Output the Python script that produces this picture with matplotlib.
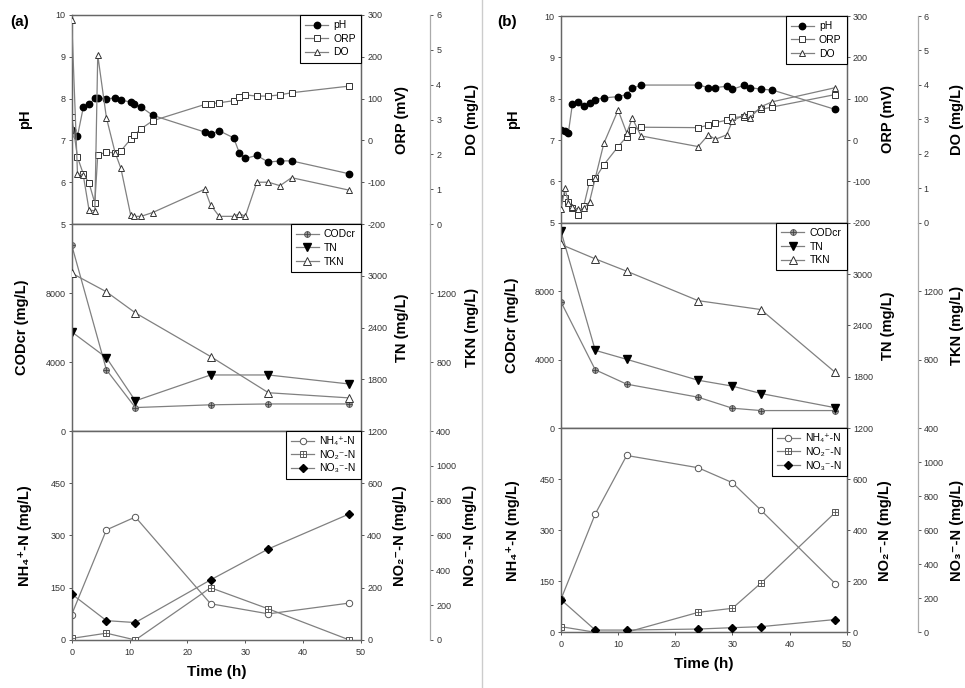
import matplotlib.pyplot as plt
from matplotlib.lines import Line2D

plt.rcParams['font.family'] = ['Liberation Sans', 'DejaVu Sans']
plt.rcParams['axes.unicode_minus'] = False

# ---------------- (a) ----------------
t_a = [0, 1, 2, 3, 4, 4.5, 6, 7.5, 8.5, 10.2, 10.8, 12, 14, 23, 24, 25.5, 28, 29, 30, 32, 34, 36, 38, 48]
ph_a = [7.25, 7.1, 7.79, 7.86, 8.01, 8.02, 8.0, 8.01, 7.96, 7.92, 7.88, 7.8, 7.6, 7.2, 7.15, 7.23,
        7.06, 6.69, 6.57, 6.64, 6.48, 6.51, 6.51, 6.2]
orp_a = [57, -40, -80, -102, -150, -35, -28, -30, -25, 3, 12, 28, 47, 86, 88, 90, 95, 103, 109,
         106, 106, 109, 114, 130]
do_a = [5.85, 1.45, 1.4, 0.4, 0.38, 4.85, 3.05, 2.05, 1.6, 0.25, 0.22, 0.22, 0.33, 1.0, 0.55,
        0.22, 0.22, 0.3, 0.22, 1.2, 1.2, 1.1, 1.33, 0.97]

t2_a = [0, 6, 11, 24, 34, 48]
cod_a = [10780, 3550, 1360, 1520, 1570, 1570]
tn_a = [2350, 2050, 1550, 1850, 1850, 1745]
tkn_a = [1315, 1207, 1085, 832, 622, 592]
nh4_a = [73, 316, 353, 104, 75, 106]
no2_a = [6, 26, 0, 200, 119, 0]
no3_a = [264, 111, 100, 345, 523, 724]

# ---------------- (b) ----------------
t_b = [0, 0.7, 1.3, 2, 3, 4, 5, 6, 7.5, 10, 11.5, 12.5, 14, 24, 25.8, 27, 29, 30, 32, 33, 35, 37, 48]
ph_b = [7.24, 7.22, 7.18, 7.87, 7.93, 7.82, 7.9, 7.98, 8.02, 8.05, 8.1, 8.25, 8.33, 8.33, 8.27,
        8.27, 8.3, 8.23, 8.32, 8.27, 8.23, 8.21, 7.74]
orp_b = [-129, -140, -150, -165, -181, -159, -101, -93, -60, -16, 8, 24, 31, 30, 36, 42, 48, 55,
         56, 64, 74, 80, 110]
do_b = [0.39, 1.0, 0.58, 0.45, 0.39, 0.42, 0.61, 1.29, 2.3, 3.27, 2.61, 3.03, 2.52, 2.21, 2.55,
        2.42, 2.55, 2.95, 3.13, 3.03, 3.37, 3.51, 3.92]

t2_b = [0, 6, 11.5, 24, 30, 35, 48]
cod_b = [7380, 3415, 2576, 1815, 1171, 1034, 1034]
tn_b = [3500, 2110, 2005, 1761, 1692, 1606, 1440]
t_tkn_b = [0, 6, 11.5, 24, 35, 48]
tkn_b = [1473, 1389, 1317, 1145, 1093, 726]
nh4_b = [97, 348, 520, 484, 440, 359, 143]
no2_b = [22, 0, 0, 78, 94, 193, 470]
no3_b = [192, 13, 13, 19, 27, 33, 75]

LINE = '#808080'
EDGE = '#333333'

fig = plt.figure(figsize=(9.65, 6.88), dpi=100)


def make_row(rect, lims, ticks, labels, lab_x, offset, bottom=False):
    ax = fig.add_axes(rect)
    ax2 = ax.twinx()
    ax3 = ax.twinx()
    # offset is given in points (pixels * 0.72)
    ax3.spines['right'].set_position(('outward', offset))
    for a in (ax, ax2, ax3):
        for s in a.spines.values():
            s.set_color('#666666')
            s.set_linewidth(0.9)
    for s in ('left', 'top', 'bottom'):
        ax3.spines[s].set_visible(False)
    ax3.spines['right'].set_color('#aaaaaa')
    for a, lim, tk, lab, lx in zip((ax, ax2, ax3), lims, ticks, labels, lab_x):
        a.set_ylim(lim)
        a.set_yticks(tk)
        a.set_ylabel(lab, fontsize=10.5, fontweight='bold')
        a.yaxis.set_label_coords(lx, 0.5)
        a.tick_params(axis='y', labelsize=6.5, length=2.5, width=0.7, colors='#555555',
                      labelcolor='#333333', pad=2)
    ax.set_xlim(0, 50)
    ax.set_xticks([0, 10, 20, 30, 40, 50])
    if bottom:
        ax.tick_params(axis='x', labelsize=6.5, length=2.5, width=0.7, colors='#555555',
                       labelcolor='#333333', pad=3)
        ax.set_xlabel('Time (h)', fontsize=11, fontweight='bold', labelpad=6)
    else:
        ax.tick_params(axis='x', length=0, labelbottom=False)
    return ax, ax2, ax3


def add_legend(ax, handles, labels):
    leg = ax.legend(handles, labels, loc='upper right', borderaxespad=0, fontsize=7.5,
                    fancybox=False, framealpha=1, edgecolor='black', handlelength=2.2,
                    handletextpad=0.5, labelspacing=0.35, borderpad=0.5)
    leg.get_frame().set_linewidth(0.8)


panels = [
    dict(x=0.0743, w=0.2998, off=49.7,
         rows=[(0.6744, 0.3038), (0.3735, 0.3009), (0.0698, 0.3038)],
         lx=[(-0.137, 1.118, 1.36), (-0.148, 1.118, 1.36), (-0.137, 1.111, 1.353)],
         t=t_a, ph=ph_a, orp=orp_a, do=do_a,
         t2=t2_a, cod=cod_a, tn=tn_a, t_tkn=t2_a, tkn=tkn_a,
         nh4=nh4_a, no2=no2_a, no3=no3_a, tag='(a)', tag_x=0.011),
    dict(x=0.5813, w=0.2961, off=51,
         rows=[(0.6763, 0.3004), (0.3775, 0.2988), (0.0810, 0.2965)],
         lx=[(-0.1435, 1.12, 1.36), (-0.147, 1.12, 1.36), (-0.1435, 1.11, 1.36)],
         t=t_b, ph=ph_b, orp=orp_b, do=do_b,
         t2=t2_b, cod=cod_b, tn=tn_b, t_tkn=t_tkn_b, tkn=tkn_b,
         nh4=nh4_b, no2=no2_b, no3=no3_b, tag='(b)', tag_x=0.515),
]

for p in panels:
    x0, w = p['x'], p['w']

    # top row: pH / ORP / DO
    (b, h) = p['rows'][0]
    ax, ax2, ax3 = make_row([x0, b, w, h], [(5, 10), (-200, 300), (0, 6)],
                            [range(5, 11), range(-200, 301, 100), range(0, 7)],
                            ['pH', 'ORP (mV)', 'DO (mg/L)'], p['lx'][0], p['off'])
    l1, = ax.plot(p['t'], p['ph'], color=LINE, lw=0.9, marker='o', ms=4.6,
                  mfc='black', mec='black', zorder=3)
    l2, = ax2.plot(p['t'], p['orp'], color=LINE, lw=0.9, marker='s', ms=4.6,
                   mfc='white', mec=EDGE, mew=0.7)
    l3, = ax3.plot(p['t'], p['do'], color=LINE, lw=0.9, marker='^', ms=5,
                   mfc='white', mec=EDGE, mew=0.7)
    add_legend(ax3, [l1, l2, l3], ['pH', 'ORP', 'DO'])

    # middle row: CODcr / TN / TKN
    (b, h) = p['rows'][1]
    ax, ax2, ax3 = make_row([x0, b, w, h], [(0, 12000), (1200, 3600), (400, 1600)],
                            [[0, 4000, 8000], [1200, 1800, 2400, 3000], [400, 800, 1200]],
                            ['CODcr (mg/L)', 'TN (mg/L)', 'TKN (mg/L)'], p['lx'][1], p['off'])
    c1, = ax.plot(p['t2'], p['cod'], color=LINE, lw=0.9, marker='o', ms=4.2,
                  mfc='#9a9a9a', mec='#555555', mew=0.6)
    c1p, = ax.plot(p['t2'], p['cod'], ls='none', marker='+', ms=4.2, mec='#444444', mew=0.6)
    c2, = ax2.plot(p['t2'], p['tn'], color=LINE, lw=0.9, marker='v', ms=5.2,
                   mfc='black', mec='black')
    c3, = ax3.plot(p['t_tkn'], p['tkn'], color=LINE, lw=0.9, marker='^', ms=5.2,
                   mfc='white', mec=EDGE, mew=0.7)
    add_legend(ax3, [(c1, c1p), c2, c3], ['CODcr', 'TN', 'TKN'])

    # bottom row: NH4 / NO2 / NO3
    (b, h) = p['rows'][2]
    ax, ax2, ax3 = make_row([x0, b, w, h], [(0, 600), (0, 800), (0, 1200)],
                            [[0, 150, 300, 450], [0, 200, 400, 600], range(0, 1001, 200)],
                            ['NH\u2084\u207a-N (mg/L)', 'NO\u2082\u207b-N (mg/L)',
                             'NO\u2083\u207b-N (mg/L)'], p['lx'][2], p['off'], bottom=True)
    n1, = ax.plot(p['t2'], p['nh4'], color=LINE, lw=0.9, marker='o', ms=4.6,
                  mfc='white', mec='#555555', mew=0.7)
    n2, = ax2.plot(p['t2'], p['no2'], color=LINE, lw=0.9, marker='s', ms=4.6,
                   mfc='white', mec='#555555', mew=0.7)
    n2p, = ax2.plot(p['t2'], p['no2'], ls='none', marker='+', ms=4.6, mec='#555555', mew=0.6)
    n3, = ax3.plot(p['t2'], p['no3'], color=LINE, lw=0.9, marker='D', ms=4.4,
                   mfc='black', mec='black')
    add_legend(ax3, [n1, (n2, n2p), n3],
               ['NH\u2084\u207a-N', 'NO\u2082\u207b-N', 'NO\u2083\u207b-N'])

    fig.text(p['tag_x'], 0.962, p['tag'], fontsize=11, fontweight='bold')

# thin divider between the two panels
fig.add_artist(Line2D([0.4995, 0.4995], [0, 1], color='#cccccc', lw=1))

fig.savefig('out.png', dpi=100)
